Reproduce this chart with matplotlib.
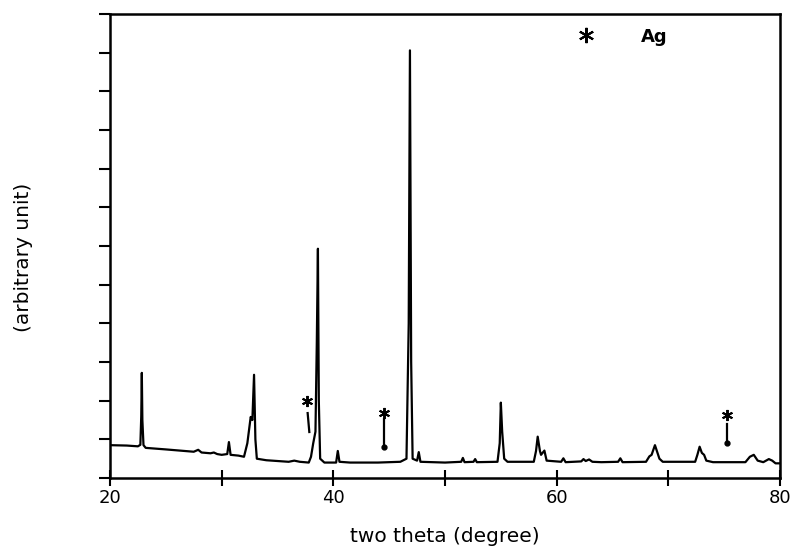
import matplotlib
matplotlib.use("Agg")
import matplotlib.pyplot as plt

# XRD pattern: two theta (deg) and intensity (arbitrary, tick units)
two_theta = [20.0, 21.5, 22.5, 22.72, 22.8, 22.85, 22.9, 23.0, 23.2, 25.0, 27.5, 27.9, 28.2, 29.0,
             29.3, 29.6, 30.0, 30.5, 30.65, 30.8, 31.5, 32.0, 32.3, 32.6, 32.75, 32.9, 33.02, 33.15,
             34.0, 36.0, 36.5, 37.0, 37.8, 38.0, 38.2, 38.4, 38.52, 38.62, 38.7, 38.82, 39.2, 40.25,
             40.4, 40.55, 41.5, 44.0, 46.0, 46.55, 46.75, 46.86, 46.97, 47.1, 47.5, 47.65, 47.8, 50.0,
             51.45, 51.6, 51.75, 52.55, 52.7, 52.85, 54.7, 54.9, 55.0, 55.12, 55.3, 55.6, 57.95, 58.15,
             58.3, 58.5, 58.6, 58.9, 59.1, 60.4, 60.6, 60.8, 62.2, 62.4, 62.6, 62.9, 63.2, 64.0,
             65.5, 65.7, 65.9, 68.0, 68.3, 68.5, 68.8, 69.2, 69.5, 72.4, 72.6, 72.8, 73.0, 73.2,
             73.4, 74.0, 76.9, 77.3, 77.65, 78.0, 78.5, 79.0, 79.3, 79.6, 80.0]
intensity = [0.85, 0.84, 0.82, 0.86, 1.6, 2.72, 1.5, 0.85, 0.78, 0.74, 0.68, 0.73, 0.66, 0.64,
             0.66, 0.62, 0.6, 0.62, 0.93, 0.6, 0.58, 0.55, 0.9, 1.58, 1.5, 2.67, 1.0, 0.5,
             0.46, 0.42, 0.45, 0.42, 0.4, 0.55, 0.9, 1.2, 3.5, 5.93, 2.0, 0.5, 0.4, 0.4,
             0.7, 0.42, 0.4, 0.4, 0.42, 0.5, 4.0, 11.06, 3.0, 0.5, 0.45, 0.67, 0.42, 0.4,
             0.42, 0.52, 0.41, 0.42, 0.49, 0.41, 0.42, 0.9, 1.95, 1.2, 0.5, 0.42, 0.42, 0.7,
             1.07, 0.7, 0.6, 0.71, 0.45, 0.42, 0.51, 0.41, 0.43, 0.49, 0.44, 0.48, 0.42, 0.41,
             0.42, 0.51, 0.41, 0.42, 0.56, 0.6, 0.85, 0.5, 0.42, 0.42, 0.6, 0.81, 0.65, 0.6,
             0.45, 0.41, 0.41, 0.55, 0.6, 0.45, 0.41, 0.49, 0.45, 0.38, 0.38]

# Ag reflection markers: star position, line start and line end
ag_star_x = [37.64, 44.53, 75.24]
ag_star_y = [2.0, 1.68, 1.63]
ag_line_x0 = [37.7, 44.53, 75.24]
ag_line_y0 = [1.68, 1.53, 1.4]
ag_line_x1 = [37.85, 44.53, 75.24]
ag_line_y1 = [1.19, 0.8, 0.9]
ag_dot = [False, True, True]

x_ticks_major = [20, 40, 60, 80]
x_ticks_minor = [30, 50, 70]
y_ticks = list(range(0, 13))

fig = plt.figure(figsize=(7.97, 5.52), dpi=100)
ax = fig.add_axes([0.138, 0.134, 0.8407, 0.8406])

ax.plot(two_theta, intensity, color="black", lw=1.6, solid_joinstyle="round")

for sx, sy, x0, y0, x1, y1, d in zip(ag_star_x, ag_star_y, ag_line_x0, ag_line_y0,
                                      ag_line_x1, ag_line_y1, ag_dot):
    ax.plot([sx], [sy], marker=(6, 2, 0), color="black", ms=8, mew=1.4)
    ax.plot([x0, x1], [y0, y1], color="black", lw=1.6)
    if d:
        ax.plot([x1], [y1], marker="o", color="black", ms=3.5)

# legend-like annotation
ax.plot([62.6], [11.45], marker=(6, 2, 0), color="black", ms=11, mew=1.5)
ax.text(67.5, 11.4, "Ag", fontsize=13, fontweight="bold", ha="left", va="center")

ax.set_xlim(20, 80)
ax.set_ylim(0, 12)
ax.set_xticks(x_ticks_major)
ax.set_xticks(x_ticks_minor, minor=True)
ax.set_yticks(y_ticks)
ax.set_yticklabels([])
ax.tick_params(axis="x", which="both", direction="inout", length=12, width=1.5, labelsize=13, pad=2)
ax.tick_params(axis="y", direction="out", length=8, width=1.5)
for s in ax.spines.values():
    s.set_linewidth(1.8)

ax.set_xlabel("two theta (degree)", fontsize=14.5, labelpad=14)
ax.set_ylabel("(arbitrary unit)", fontsize=14.5)
ax.yaxis.set_label_coords(-0.115, 0.475)

fig.savefig("out.png", dpi=100)
